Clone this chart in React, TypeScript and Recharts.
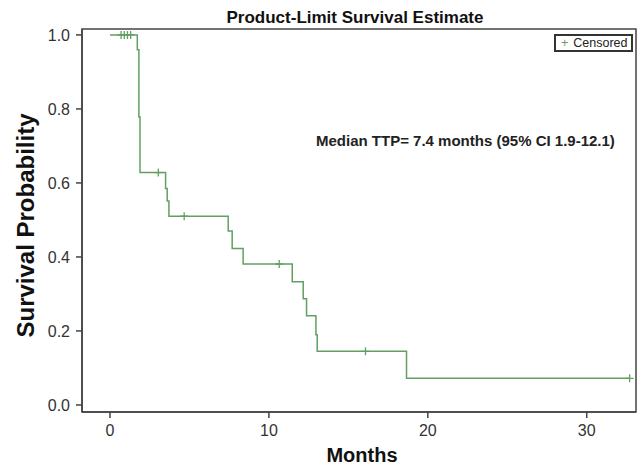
import {
  ComposedChart,
  Customized,
  Legend,
  Line,
  ReferenceArea,
  Scatter,
  XAxis,
  YAxis,
} from "recharts";

// Kaplan-Meier step points (months, survival probability)
const stepMonths = [0, 1.72, 1.82, 1.89, 3.5, 3.6, 3.71, 7.44, 7.69, 8.38, 11.47, 12.16, 12.37, 12.96, 13.04, 18.66, 32.7];
const stepSurvival = [1.0, 0.96, 0.778, 0.628, 0.585, 0.551, 0.51, 0.47, 0.423, 0.381, 0.333, 0.287, 0.241, 0.19, 0.145, 0.072, 0.072];

// censored observations
const censorMonths = [0.7, 0.9, 1.1, 1.3, 3.04, 4.67, 10.65, 16.08, 32.7];
const censorSurvival = [1.0, 1.0, 1.0, 1.0, 0.628, 0.51, 0.381, 0.145, 0.072];

const xTicks = [0, 10, 20, 30];
const yTicks = [0, 0.2, 0.4, 0.6, 0.8, 1.0];
const xDomain: [number, number] = [-1.76, 33.1];
const yDomain: [number, number] = [-0.019, 1.016];

const curveData = stepMonths.map((t, i) => ({ t, s: stepSurvival[i] }));
const censorData = censorMonths.map((t, i) => ({ t, s: censorSurvival[i] }));

const GREEN = "#62a062";
const AXIS = "#444";
const FONT = "'Liberation Sans', Arial, sans-serif";

const CensorMark = (props: any) => {
  const { cx, cy } = props;
  if (cx == null || cy == null) return null;
  return (
    <path
      d={`M${cx - 4},${cy}H${cx + 4}M${cx},${cy - 4}V${cy + 4}`}
      stroke={GREEN}
      strokeWidth={1.3}
      fill="none"
    />
  );
};

const LegendBox = () => (
  <div
    style={{
      border: "2px solid #333",
      padding: "0 3px 0 5px",
      fontFamily: FONT,
      fontSize: 12.5,
      lineHeight: "14px",
      color: "#222",
      background: "#fff",
      whiteSpace: "nowrap",
    }}
  >
    <span style={{ color: GREEN, marginRight: 5 }}>+</span>Censored
  </div>
);

const Texts = () => (
  <g>
    <text x={355} y={23} textAnchor="middle" fontFamily={FONT} fontWeight="bold" fontSize={17} fill="#111">
      Product-Limit Survival Estimate
    </text>
    <text x={316} y={146} fontFamily={FONT} fontWeight="bold" fontSize={15} fill="#222">
      Median TTP= 7.4 months (95% CI 1.9-12.1)
    </text>
  </g>
);

export default function App() {
  return (
    <div style={{ position: "absolute", left: 0, top: 0, background: "#fff" }}>
      <ComposedChart width={642} height={467} margin={{ top: 29, right: 6, bottom: 0, left: 0 }}>
        <XAxis
          type="number"
          dataKey="t"
          domain={xDomain}
          ticks={xTicks}
          allowDataOverflow
          height={55}
          stroke={AXIS}
          strokeWidth={1.5}
          tickSize={6}
          tickMargin={7}
          tick={{ fill: "#333", fontSize: 16, fontFamily: FONT }}
          label={(p: any) => {
            const vb = p.viewBox;
            return (
              <text
                x={vb.x + vb.width / 2 + 3}
                y={462}
                textAnchor="middle"
                fontFamily={FONT}
                fontWeight="bold"
                fontSize={20}
                fill="#111"
              >
                Months
              </text>
            );
          }}
        />
        <YAxis
          type="number"
          dataKey="s"
          domain={yDomain}
          ticks={yTicks}
          allowDataOverflow
          width={82}
          stroke={AXIS}
          strokeWidth={1.5}
          tickSize={6}
          tickMargin={6}
          tickFormatter={(v: number) => v.toFixed(1)}
          tick={{ fill: "#333", fontSize: 16, fontFamily: FONT }}
          label={(p: any) => {
            const vb = p.viewBox;
            const cx = 34;
            const cy = vb.y + vb.height / 2 + 5;
            return (
              <text
                x={cx}
                y={cy}
                transform={`rotate(-90 ${cx} ${cy})`}
                textAnchor="middle"
                fontFamily={FONT}
                fontWeight="bold"
                fontSize={24}
                fill="#111"
              >
                Survival Probability
              </text>
            );
          }}
        />
        <ReferenceArea
          x1={xDomain[0]}
          x2={xDomain[1]}
          y1={yDomain[0]}
          y2={yDomain[1]}
          fill="none"
          stroke={AXIS}
          strokeWidth={1.5}
          ifOverflow="visible"
        />
        <Line
          data={curveData}
          dataKey="s"
          type="stepAfter"
          stroke={GREEN}
          strokeWidth={1.5}
          dot={false}
          activeDot={false}
          isAnimationActive={false}
        />
        <Scatter data={censorData} dataKey="s" shape={CensorMark} isAnimationActive={false} />
        <Legend
          content={() => <LegendBox />}
          layout="horizontal"
          align="center"
          verticalAlign="middle"
          wrapperStyle={{ position: "absolute", top: 34, left: 554, width: "auto" }}
        />
        <Customized component={Texts} />
      </ComposedChart>
    </div>
  );
}
